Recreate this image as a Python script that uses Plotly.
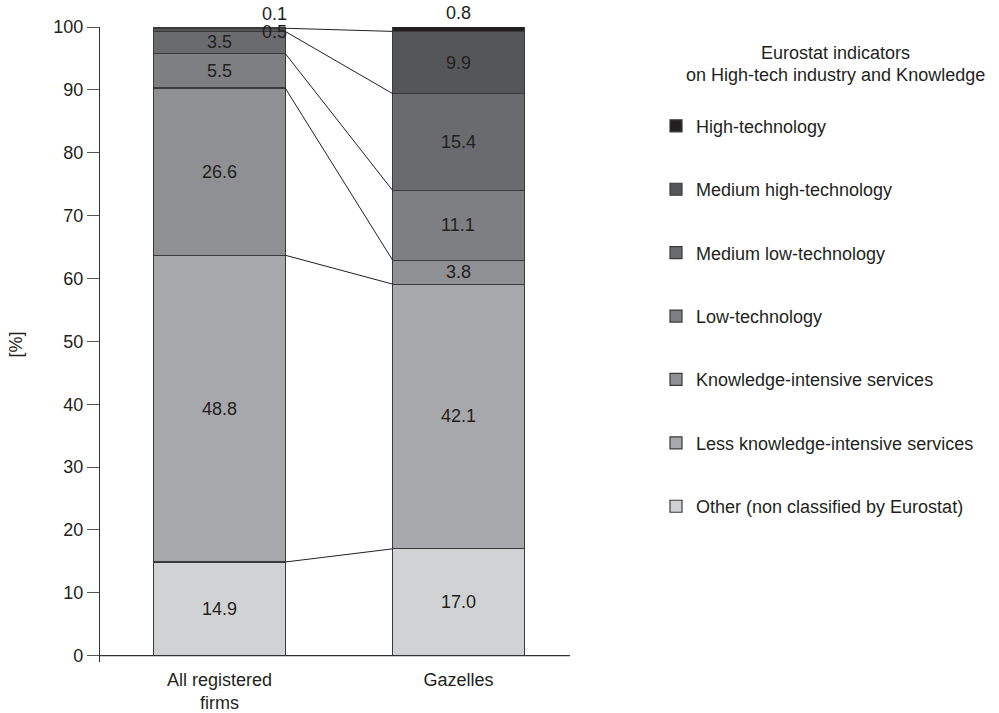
import plotly.graph_objects as go

categories = ["All registered<br>firms", "Gazelles"]
series_names = [
    "Other (non classified by Eurostat)",
    "Less knowledge-intensive services",
    "Knowledge-intensive services",
    "Low-technology",
    "Medium low-technology",
    "Medium high-technology",
    "High-technology",
]
all_firms = [14.9, 48.8, 26.6, 5.5, 3.5, 0.5, 0.1]
gazelles = [17.0, 42.1, 3.8, 11.1, 15.4, 9.9, 0.8]
colors = ["#d1d2d4", "#a7a8ab", "#8f9093", "#7e7f82", "#6a6b6e", "#555658", "#231f20"]
y_ticks = [0, 10, 20, 30, 40, 50, 60, 70, 80, 90, 100]
legend_title_lines = ["Eurostat indicators", "on High-tech industry and Knowledge"]

FONT = "Liberation Sans, Arial, sans-serif"
TXT = "#231f20"
BW = 0.55
xs = [0, 1]
n = len(series_names)
YMAX = 100

fig = go.Figure()
for i, name in enumerate(series_names):
    fig.add_trace(go.Bar(
        x=xs, y=[all_firms[i], gazelles[i]], name=name, width=BW,
        marker=dict(color=colors[i], line=dict(color="#3a3a3c", width=1.2)),
        legendgroup=f"g{i}", legendrank=n - i,
    ))

def cum(vals):
    out, s = [], 0
    for v in vals:
        s += v
        out.append(s)
    return out

cA, cG = cum(all_firms), cum(gazelles)

# connecting lines
for i in range(n - 1):
    fig.add_shape(type="line", xref="x", yref="y",
                  x0=BW / 2, x1=1 - BW / 2, y0=cA[i], y1=cG[i],
                  line=dict(color=TXT, width=1))

# x baseline
fig.add_shape(type="line", xref="paper", yref="y", x0=0, x1=1, y0=0, y1=0,
              line=dict(color="#333", width=1.2))

# labels
for vals, cums, xi in [(all_firms, cA, 0), (gazelles, cG, 1)]:
    for i, v in enumerate(vals):
        if v >= 2:
            fig.add_annotation(x=xi, y=cums[i] - v / 2, text=f"{v:.1f}", showarrow=False,
                               font=dict(size=18, color=TXT, family=FONT))
fig.add_annotation(x=BW / 2, y=min(cA[6], YMAX), text=f"{all_firms[6]:.1f}", showarrow=False,
                   xanchor="right", yanchor="bottom", xshift=4, yshift=2,
                   font=dict(size=18, color=TXT, family=FONT))
fig.add_annotation(x=BW / 2, y=cA[5] - all_firms[5] / 2, text=f"{all_firms[5]:.1f}", showarrow=False,
                   xanchor="right", yanchor="middle", xshift=4, yshift=-2,
                   font=dict(size=18, color=TXT, family=FONT))
fig.add_annotation(x=1, y=min(cG[6], YMAX), text=f"{gazelles[6]:.1f}", showarrow=False,
                   yanchor="bottom", yshift=2,
                   font=dict(size=18, color=TXT, family=FONT))

# legend title (two centred lines)
for line_text, yp in zip(legend_title_lines, [0.959, 0.924]):
    fig.add_annotation(xref="paper", yref="paper", x=1.565, y=yp, xanchor="center", yanchor="middle",
                       text=line_text, showarrow=False,
                       font=dict(size=18, color=TXT, family=FONT))

fig.update_layout(
    barmode="stack",
    width=999, height=713,
    margin=dict(l=100, r=429, t=27, b=51, autoexpand=False),
    paper_bgcolor="white", plot_bgcolor="white",
    font=dict(family=FONT, size=18, color=TXT),
    showlegend=True,
    legend=dict(
        x=1.183, y=0.873, xanchor="left", yanchor="top",
        traceorder="grouped", tracegroupgap=37,
        font=dict(size=18, color=TXT),
    ),
    xaxis=dict(range=[-0.5, 1.467], tickmode="array", tickvals=xs, ticktext=categories,
               showline=False, showgrid=False, zeroline=False, ticks="",
               ticklabelstandoff=5, automargin=False,
               tickfont=dict(size=18, color=TXT)),
    yaxis=dict(range=[-1, YMAX], tickmode="array", tickvals=y_ticks,
               showline=True, linecolor="#333", linewidth=1.2,
               ticks="outside", ticklen=12, tickcolor="#555", tickwidth=1.2,
               showgrid=False, zeroline=False, automargin=False,
               title=dict(text="[%]", standoff=25, font=dict(size=18, color=TXT)),
               tickfont=dict(size=18, color=TXT)),
)

fig.write_html(
    "out.html",
    config={"displayModeBar": False},
    post_script="document.body.style.margin='0';document.body.style.overflow='hidden';",
)
